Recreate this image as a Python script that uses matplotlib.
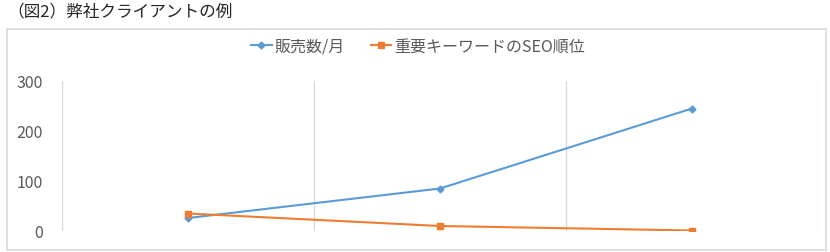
import matplotlib.pyplot as plt
from matplotlib.patches import Rectangle

plt.rcParams['font.family'] = ['Noto Sans CJK JP', 'DejaVu Sans']

categories = ['A', 'B', 'C']
sales = [26, 85, 245]
seo_rank = [35, 10, 1]
series_names = ['販売数/月', '重要キーワードのSEO順位']
title = '（図2）弊社クライアントの例'

fig = plt.figure(figsize=(8.3, 2.53), dpi=100)

# outer chart frame
fig.patches.append(Rectangle((7 / 830, 2 / 253), 819 / 830, 221 / 253,
                             transform=fig.transFigure, fill=False,
                             edgecolor='#d9d9d9', linewidth=1.2))
fig.text(7 / 830, 1 - 12 / 253, title, fontsize=12, color='#262626',
         va='center', ha='left')

ax = fig.add_axes([62 / 830, 21 / 253, 756 / 830, 150 / 253])
x = range(len(categories))
ax.plot(x, sales, color='#5B9BD5', marker='D', markersize=3.5,
        linewidth=1.5, label=series_names[0])
ax.plot(x, seo_rank, color='#ED7D31', marker='s', markersize=5,
        linewidth=1.5, label=series_names[1])

ax.set_xlim(-0.5, len(categories) - 0.5)
ax.set_ylim(0, 300)
ax.set_yticks([0, 100, 200, 300])
ax.set_xticks([])
for b in [i - 0.5 for i in range(len(categories) + 1)]:
    ax.axvline(b, color='#d9d9d9', linewidth=0.9, zorder=0)
for s in ax.spines.values():
    s.set_visible(False)
ax.tick_params(axis='y', length=0, pad=14, labelsize=11.5, labelcolor='#595959')

fig.legend(loc='center', bbox_to_anchor=(418 / 830, 1 - 47 / 253),
           ncol=2, frameon=False, fontsize=11.5, labelcolor='#595959',
           handlelength=1.3, handletextpad=0.2, columnspacing=1.6)

plt.savefig('out.png', dpi=100)
